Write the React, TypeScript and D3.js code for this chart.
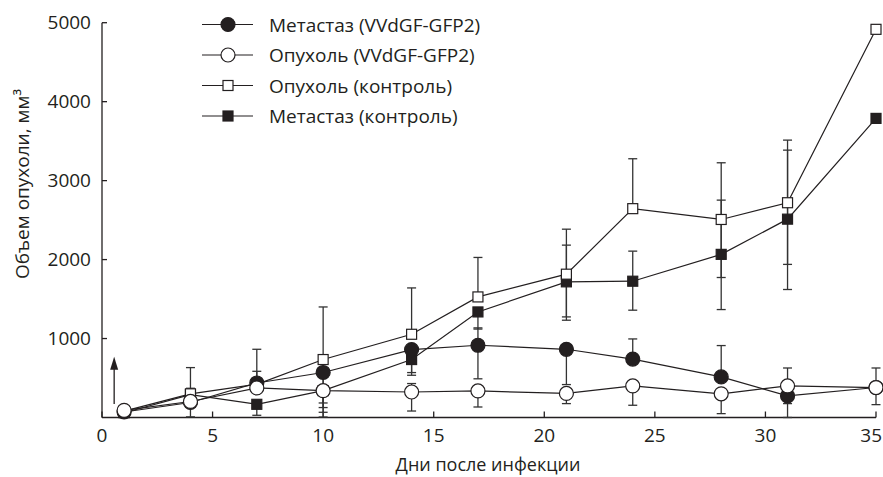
import { useEffect, useRef } from "react";
import * as d3 from "d3";

// days after infection
const days = [1, 4, 7, 10, 14, 17, 21, 24, 28, 31, 35];

// tumour volume, mm3
const metVV = [70, 190, 437, 570, 860, 915, 864, 740, 514, 273, 380];
const tumorVV = [90, 203, 374, 340, 323, 336, 305, 400, 300, 400, 379];
const tumorCtrl = [80, 300, 420, 734, 1054, 1527, 1815, 2645, 2508, 2720, 4916];
const metCtrl = [60, 290, 167, 340, 734, 1337, 1718, 1726, 2066, 2512, 3788];

// error bars (drawn one-sided where the original does), 0 = none
const metVVUp = [0, 180, 427, 0, 0, 220, 0, 255, 397, 0, 0];
const metVVDown = [0, 0, 0, 386, 325, 425, 447, 0, 0, 273, 0];
const tumorVVUp = [0, 0, 211, 0, 107, 0, 0, 0, 0, 227, 248];
const tumorVVDown = [0, 195, 0, 214, 241, 203, 129, 245, 251, 224, 216];
const tumorCtrlUp = [0, 332, 0, 666, 587, 500, 570, 632, 718, 793, 0];
const tumorCtrlDown = [0, 0, 0, 728, 0, 0, 541, 0, 735, 781, 0];
const metCtrlUp = [0, 0, 0, 0, 0, 0, 465, 381, 687, 874, 0];
const metCtrlDown = [0, 0, 139, 274, 165, 217, 486, 367, 699, 891, 0];

const seriesNames = [
  "Метастаз (VVdGF-GFP2)",
  "Опухоль (VVdGF-GFP2)",
  "Опухоль (контроль)",
  "Метастаз (контроль)",
];

const xTicks = [0, 5, 10, 15, 20, 25, 30, 35];
const yTicks = [1000, 2000, 3000, 4000, 5000];

// injection arrow (day, from, to)
const arrowDay = 0.55;
const arrowFrom = 170;
const arrowTo = 770;

const xLabel = "Дни после инфекции";
const yLabel = "Объем опухоли, мм³";

const ink = "#231f20";
const font = "'Open Sans', sans-serif";

type Series = {
  name: string;
  values: number[];
  up: number[];
  down: number[];
  shape: "circle" | "square";
  filled: boolean;
};

export default function App() {
  const ref = useRef<SVGSVGElement>(null);

  useEffect(() => {
    const svg = d3.select(ref.current);
    svg.selectAll("*").remove();

    const series: Series[] = [
      { name: seriesNames[0], values: metVV, up: metVVUp, down: metVVDown, shape: "circle", filled: true },
      { name: seriesNames[1], values: tumorVV, up: tumorVVUp, down: tumorVVDown, shape: "circle", filled: false },
      { name: seriesNames[2], values: tumorCtrl, up: tumorCtrlUp, down: tumorCtrlDown, shape: "square", filled: false },
      { name: seriesNames[3], values: metCtrl, up: metCtrlUp, down: metCtrlDown, shape: "square", filled: true },
    ];

    const x = d3.scaleLinear().domain([0, 35]).range([102, 876]);
    const y = d3.scaleLinear().domain([0, 5000]).range([417.5, 22.7]);

    // axes
    const axes = svg.append("g").attr("stroke", ink).attr("stroke-width", 1.3);
    axes.append("line").attr("x1", x(0)).attr("x2", x(35)).attr("y1", y(0)).attr("y2", y(0));
    axes.append("line").attr("x1", x(0)).attr("x2", x(0)).attr("y1", y(0)).attr("y2", y(5000));
    axes.selectAll(".xt")
      .data(xTicks)
      .join("line")
      .attr("x1", d => x(d)).attr("x2", d => x(d))
      .attr("y1", y(0)).attr("y2", y(0) - 6);
    axes.selectAll(".yt")
      .data(yTicks)
      .join("line")
      .attr("x1", x(0)).attr("x2", x(0) + 5)
      .attr("y1", d => y(d)).attr("y2", d => y(d));

    const labels = svg.append("g").attr("font-family", font).attr("fill", ink);
    // last label sits against the right edge, as in the original
    const lastTick = xTicks[xTicks.length - 1];
    labels.selectAll(".xl")
      .data(xTicks)
      .join("text")
      .attr("x", d => (d === lastTick ? 882 : x(d)))
      .attr("y", 442)
      .attr("font-size", 19)
      .attr("text-anchor", d => (d === lastTick ? "end" : "middle"))
      .text(d => d);
    labels.selectAll(".yl")
      .data(yTicks)
      .join("text")
      .attr("x", 91)
      .attr("y", d => y(d) + 6.5)
      .attr("font-size", 19)
      .attr("text-anchor", "end")
      .text(d => d);
    labels.append("text")
      .attr("x", x(17.5) - 1)
      .attr("y", 471)
      .attr("font-size", 18)
      .attr("text-anchor", "middle")
      .text(xLabel);
    labels.append("text")
      .attr("transform", `translate(29, 184) rotate(-90)`)
      .attr("font-size", 19)
      .attr("text-anchor", "middle")
      .text(yLabel);

    // error bars
    const bars = svg.append("g").attr("stroke", "#333").attr("stroke-width", 1.3);
    const cap = 4.5;
    series.forEach(s => {
      days.forEach((d, i) => {
        const v = s.values[i];
        const ends = [] as number[];
        if (s.up[i] > 0) ends.push(v + s.up[i]);
        if (s.down[i] > 0) ends.push(Math.max(0, v - s.down[i]));
        ends.forEach(e => {
          bars.append("line").attr("x1", x(d)).attr("x2", x(d)).attr("y1", y(v)).attr("y2", y(e));
          bars.append("line").attr("x1", x(d) - cap).attr("x2", x(d) + cap).attr("y1", y(e)).attr("y2", y(e));
        });
      });
    });

    // lines
    const line = d3.line<number>().x((_, i) => x(days[i])).y(v => y(v));
    series.forEach(s => {
      svg.append("path")
        .attr("d", line(s.values))
        .attr("fill", "none")
        .attr("stroke", ink)
        .attr("stroke-width", 1.2);
    });

    const drawMarker = (g: any, s: Series, cx: number, cy: number) => {
      const fill = s.filled ? ink : "#fff";
      if (s.shape === "circle") {
        g.append("circle").attr("cx", cx).attr("cy", cy).attr("r", 7)
          .attr("fill", fill).attr("stroke", ink).attr("stroke-width", 1.2);
      } else {
        g.append("rect").attr("x", cx - 5).attr("y", cy - 5).attr("width", 10).attr("height", 10)
          .attr("fill", fill).attr("stroke", ink).attr("stroke-width", 1.2);
      }
    };

    // markers: filled squares, open squares, filled circles, open circles
    const markers = svg.append("g");
    [series[3], series[2], series[0], series[1]].forEach(s => {
      days.forEach((d, i) => drawMarker(markers, s, x(d), y(s.values[i])));
    });

    // arrow
    const ax = x(arrowDay);
    svg.append("line").attr("x1", ax).attr("x2", ax).attr("y1", y(arrowFrom)).attr("y2", y(arrowTo) + 10)
      .attr("stroke", ink).attr("stroke-width", 1.3);
    svg.append("path")
      .attr("d", `M${ax},${y(arrowTo)} L${ax - 4},${y(arrowTo) + 13} L${ax + 4},${y(arrowTo) + 13} Z`)
      .attr("fill", ink);

    // legend
    const legend = svg.append("g");
    series.forEach((s, i) => {
      const ly = 24.5 + i * 30.5;
      legend.append("line").attr("x1", 202).attr("x2", 253).attr("y1", ly).attr("y2", ly)
        .attr("stroke", ink).attr("stroke-width", 1.2);
      drawMarker(legend, s, 228, ly);
      legend.append("text")
        .attr("x", 269)
        .attr("y", ly + 7)
        .attr("font-family", font)
        .attr("font-size", 19)
        .attr("fill", ink)
        .text(s.name);
    });
  }, []);

  return (
    <svg
      ref={ref}
      width={883}
      height={477}
      style={{ position: "absolute", left: 0, top: 0, background: "#fff" }}
    />
  );
}
